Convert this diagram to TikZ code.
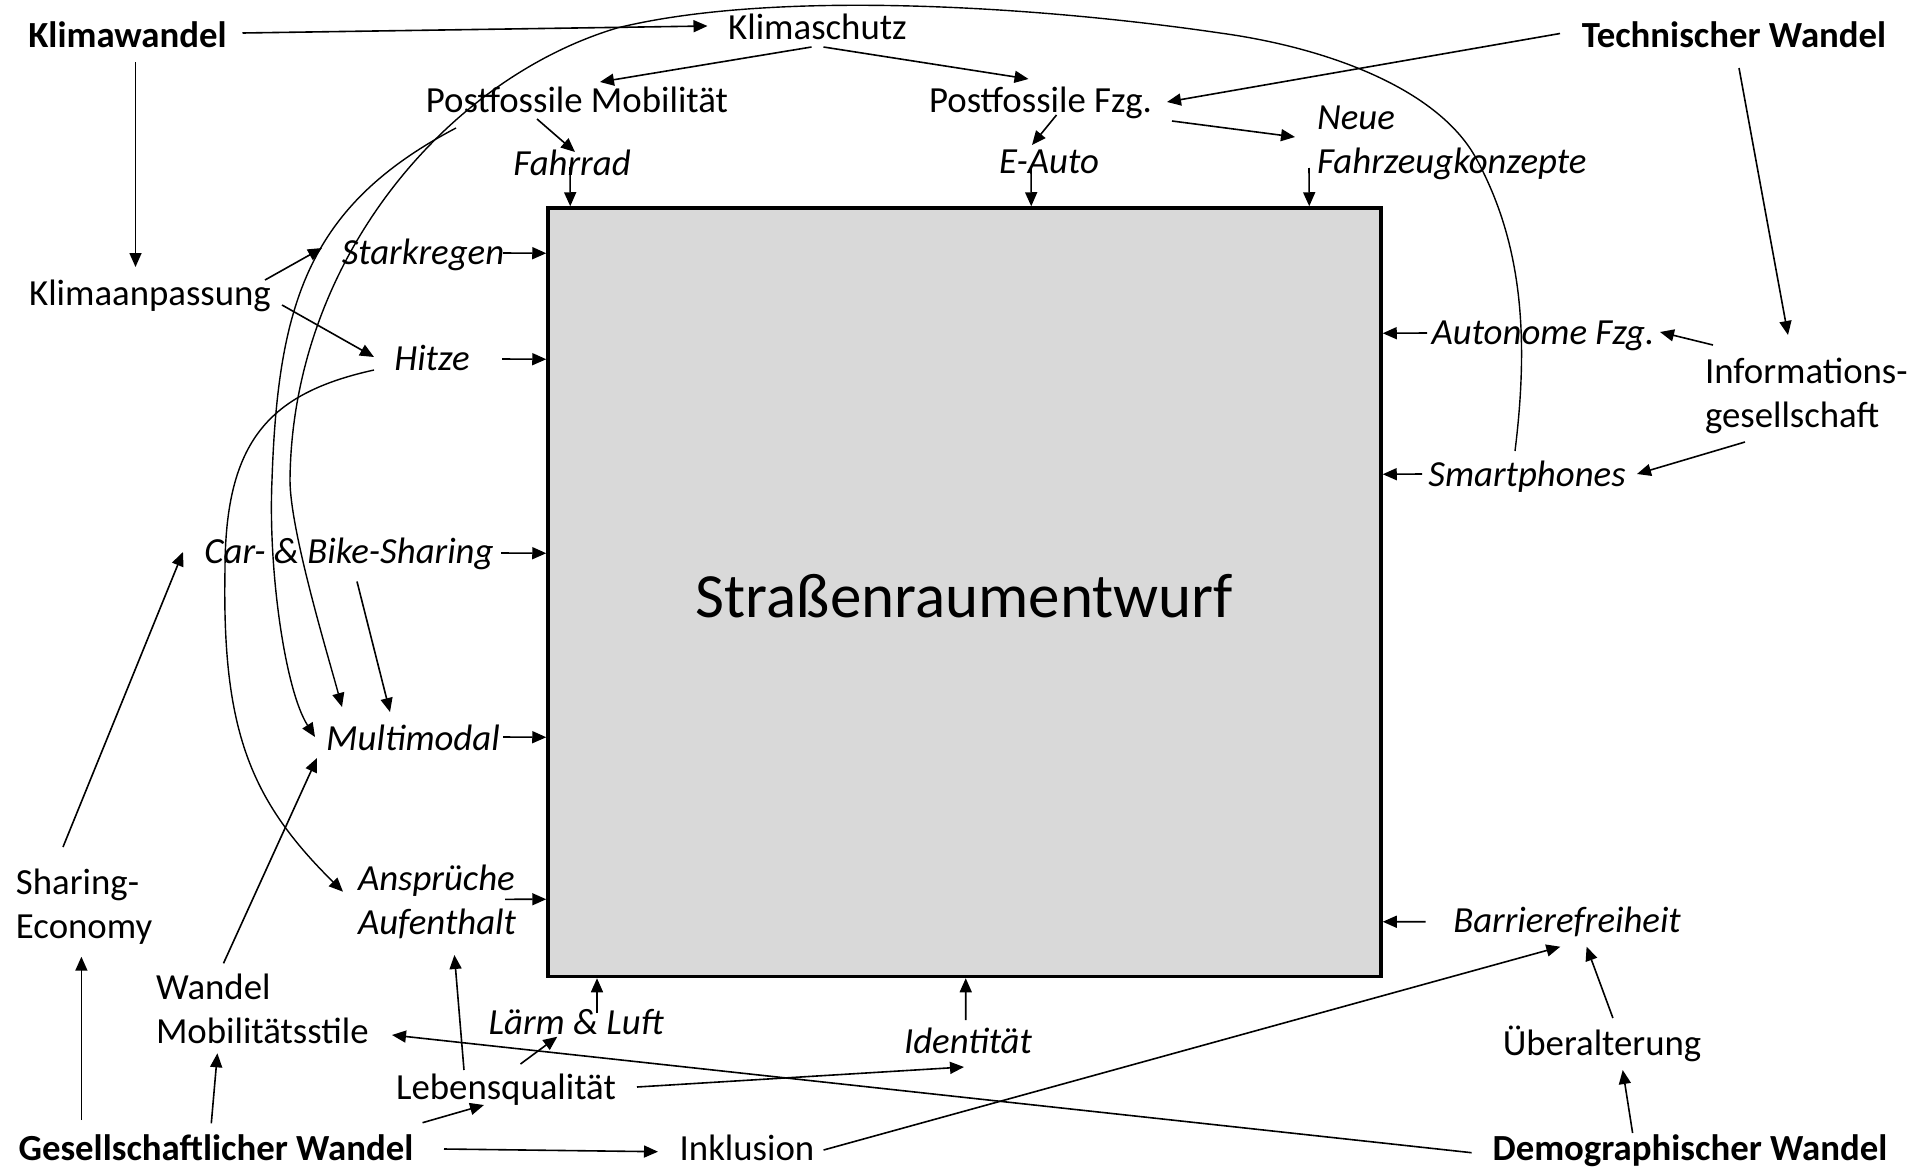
\documentclass[tikz,border=0pt]{standalone}
\usepackage{fontspec}
\setmainfont{Carlito}
\usetikzlibrary{arrows.meta,calc}
\definecolor{boxfill}{HTML}{D9D9D9}
\newcommand\tstr{\rule{0pt}{30.6pt}}
\newcommand\bstr{\rule[-6.2pt]{0pt}{6.2pt}}
\begin{document}
\begin{tikzpicture}[x=1pt,y=-1pt,
  lbl/.style={inner sep=0pt, outer sep=0pt, text height=30.6pt, text depth=6.2pt, font=\fontsize{36.8}{44}\selectfont},
  ilbl/.style={lbl, font=\fontsize{36.8}{44}\selectfont\itshape},
  blbl/.style={lbl, font=\fontsize{36.8}{44}\selectfont\bfseries},
  flat/.style={text height=24.4pt, text depth=0pt},
  mlbl/.style={inner sep=0pt, outer sep=0pt, align=left, anchor=west, font=\fontsize{36.8}{44}\selectfont},
  milbl/.style={mlbl, font=\fontsize{36.8}{44}\selectfont\itshape},
  arr/.style={-{Triangle[length=14pt,width=12pt]}, line width=1.6pt},
  carr/.style={arr, line width=1.4pt}]
\useasboundingbox (0,0) rectangle (1930,1167);

% central box
\node[draw=black, line width=3.5pt, fill=boxfill, minimum width=833pt, minimum height=768.5pt,
      inner sep=0pt, text height=50pt, text depth=0pt, font=\fontsize{63}{75}\selectfont] (box) at (964.5,592.25) {Straßenraumentwurf};

% labels
\node[blbl] (kw) at (127.5,35) {Klimawandel};
\node[lbl] (ksch) at (817.5,27) {Klimaschutz};
\node[blbl] (tw) at (1734,35) {Technischer Wandel};
\node[lbl] (pm) at (577,100) {Postfossile Mobilität};
\node[lbl] (pf) at (1040.5,100) {Postfossile Fzg.};
\node[milbl] (nfk) at (1317,139) {\tstr Neue\\Fahrzeugkonzepte\bstr};
\node[ilbl] (fr) at (572,163) {Fahrrad};
\node[ilbl] (ea) at (1049,161) {E-Auto};
\node[ilbl] (sr) at (423,252) {Starkregen};
\node[lbl] (ka) at (150,293) {Klimaanpassung};
\node[ilbl] (hi) at (432,358) {Hitze};
\node[ilbl] (af) at (1543,332) {Autonome Fzg.};
\node[mlbl] (ig) at (1705,393) {\tstr Informations-\\gesellschaft\bstr};
\node[ilbl] (sp) at (1527,474) {Smartphones};
\node[ilbl] (cbs) at (349,551.5) {Car- \& Bike-Sharing};
\node[ilbl] (mm) at (413,738) {Multimodal};
\node[mlbl] (se) at (16,904) {\tstr Sharing-\\Economy\bstr};
\node[milbl] (aa) at (358,900) {\tstr Ansprüche\\Aufenthalt\bstr};
\node[ilbl] (bf) at (1567,920) {Barrierefreiheit};
\node[mlbl] (wm) at (156,1009) {\tstr Wandel\\Mobilitätsstile\bstr};
\node[ilbl] (ll) at (576,1022) {Lärm \& Luft};
\node[ilbl] (id) at (968,1041) {Identität};
\node[lbl] (ue) at (1602,1043) {Überalterung};
\node[lbl] (lq) at (506,1087) {Lebensqualität};
\node[blbl, flat] (gw) at (216,1148) {Gesellschaftlicher Wandel};
\node[lbl, flat] (ink) at (747,1148) {Inklusion};
\node[blbl] (dw) at (1690,1148) {Demographischer Wandel};

% straight connectors
\draw[arr] ($(kw)+(115,-2)$) -- ($(ksch)+(-110,-1)$);
\draw[arr] ($(kw)+(8,27)$) -- ($(ka)+(-14.5,-26)$);
\draw[arr] ($(ksch)+(-6,20)$) -- ($(pm)+(23,-18)$);
\draw[arr] ($(ksch)+(6,20)$) -- ($(pf)+(-12,-21)$);
\draw[arr] ($(tw)+(-174,-1.5)$) -- ($(pf)+(126.5,2)$);
\draw[arr] ($(pm)+(-40,19)$) -- ($(fr)+(3,-11)$);
\draw[arr] ($(fr)+(-2,4)$) -- ($(box.north west)+(24,0)$);
\draw[arr] ($(pf)+(16,15)$) -- ($(ea)+(-17,-16)$);
\draw[arr] ($(ea)+(-18,7)$) -- ($(box.north west)+(485,0)$);
\draw[arr] ($(pf)+(131.5,21)$) -- ($(nfk.west)+(-22,-2)$);
\draw[arr] ($(nfk.west)+(-8,29)$) -- ($(box.north west)+(763,0)$);
\draw[arr] ($(tw)+(5,33)$) -- ($(ig.west)+(83,-58)$);
\draw[arr] ($(ig.west)+(8,-48)$) -- ($(af)+(117,0)$);
\draw[arr] ($(af)+(-116,1)$) -- ($(box.north east)+(0,127)$);
\draw[arr] ($(ig.west)+(40,49)$) -- ($(sp)+(110,0)$);
\draw[arr] ($(sp)+(-105,0)$) -- ($(box.north east)+(0,268)$);
\draw[arr] ($(ka)+(115,-13)$) -- ($(sr)+(-101,-4)$);
\draw[arr] ($(ka)+(132,12)$) -- ($(hi)+(-58,-1)$);
\draw[arr] ($(sr)+(80,1)$) -- ($(box.north west)+(0,47)$);
\draw[arr] ($(hi)+(70,1)$) -- ($(box.north west)+(0,153)$);
\draw[arr] ($(cbs)+(152,1.5)$) -- ($(box.north west)+(0,347)$);
\draw[arr] ($(mm)+(90,-1)$) -- ($(box.north west)+(0,531)$);
\draw[arr] ($(cbs)+(8,30)$) -- ($(mm)+(-23,-26)$);
\draw[arr] ($(se.west)+(47,-57)$) -- ($(cbs)+(-166,0.5)$);
\draw[arr] ($(wm.west)+(67.5,-45.7)$) -- ($(mm)+(-96,20)$);
\draw[arr] ($(gw)+(-134.6,-28)$) -- ($(se.west)+(65.4,52.7)$);
\draw[arr] ($(gw)+(-4.7,-24.7)$) -- ($(wm.west)+(61.4,44.3)$);
\draw[arr] ($(gw)+(206.5,-25.3)$) -- ($(lq)+(-22,18)$);
\draw[arr] ($(gw)+(228,1)$) -- ($(ink)+(-89,3.7)$);
\draw[arr] ($(lq)+(-42,-17)$) -- ($(aa.west)+(96.4,55)$);
\draw[arr] ($(lq)+(14.5,-23)$) -- ($(ll)+(-18.7,14.7)$);
\draw[arr] ($(ll)+(21,-9)$) -- ($(box.south west)+(50.75,0)$);
\draw[arr] ($(lq)+(131,0)$) -- ($(id)+(-4,26)$);
\draw[arr] ($(id)+(-2.3,-21)$) -- ($(box.south west)+(419.5,0)$);
\draw[arr] ($(dw)+(-218.4,4.7)$) -- ($(wm.west)+(236,26)$);
\draw[arr] ($(ink)+(76.6,2)$) -- ($(bf)+(-6.7,26.7)$);
\draw[arr] ($(aa.west)+(147,-0.7)$) -- ($(box.north west)+(0,693)$);
\draw[arr] ($(bf)+(-141.4,1.7)$) -- ($(box.north east)+(0,715.5)$);
\draw[arr] ($(ue)+(10.9,-25)$) -- ($(bf)+(19.6,26.7)$);
\draw[arr] ($(dw)+(-57.4,-15)$) -- ($(ue)+(20.7,27)$);

% curved connectors
\draw[carr] ($(sp)+(-12,-23)$) .. controls (1530,330) and (1520,240) .. (1477,160)
  .. controls (1440,90) and (1330,48) .. (1220,33)
  .. controls (1050,8) and (780,-12) .. (617,28)
  .. controls (447,79) and (292,260) .. (290,480)
  .. controls (290,530) and (327,652) .. ($(mm)+(-71,-31)$);
\draw[carr] ($(pm)+(-121,28)$) .. controls (310,205) and (278,300) .. (272,480)
  .. controls (268,570) and (285,690) .. ($(mm)+(-98,-1)$);
\draw[carr] ($(hi)+(-58,12)$) .. controls (270,393) and (225,440) .. (225,570)
  .. controls (222,730) and (250,800) .. ($(aa.west)+(-15,-8.3)$);
\end{tikzpicture}
\end{document}
